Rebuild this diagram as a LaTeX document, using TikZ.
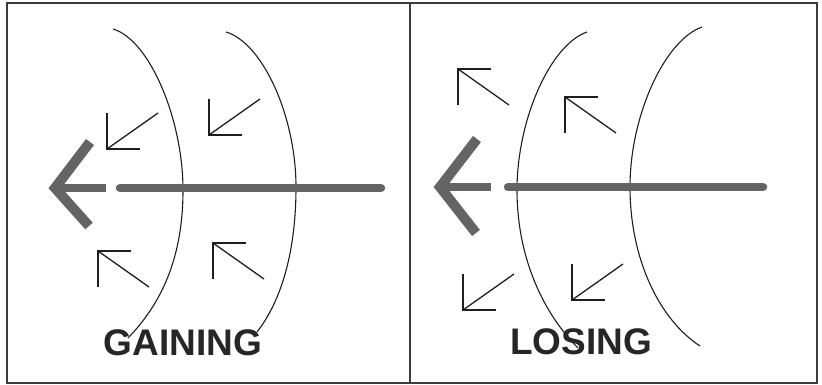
\documentclass[tikz,border=0pt]{standalone}
\usepackage{fontspec}
\setmainfont{Liberation Sans}
\usepackage{tikz}
\usetikzlibrary{calc}
\definecolor{RimGray} {RGB}{60,60,60}
\definecolor{WaveInk} {RGB}{30,30,30}
\definecolor{PathGray}{RGB}{100,100,100}
\definecolor{WordInk} {RGB}{38,38,38}

\begin{document}
\begin{tikzpicture}[x=1pt,y=-1pt,
    rim/.style={draw=RimGray,line width=1.8pt},
    wave/.style={draw=WaveInk,line width=1.1pt},
    dart/.style={draw=WaveInk,line width=1.3pt},
    shaft/.style={draw=PathGray,line width=8.5pt},
    barb/.style={draw=PathGray,line width=10pt,line join=miter},
    word/.style={text=WordInk,font=\fontsize{37}{40}\bfseries\selectfont,anchor=base}]
      \useasboundingbox (0,0) rectangle (822,385);
      % panels
      \draw[rim] (7,3) rectangle (817,383);
      \draw[rim] (410,3) -- (410,383);
      % wave fronts
      \draw[wave] (113,29) .. controls (150,40) and (183,120) .. (183,190)
                  .. controls (183,260) and (160,305) .. (128,338);
      \draw[wave] (226,32) .. controls (263,43) and (296,117) .. (296,187)
                  .. controls (296,250) and (282,300) .. (257,332);
      \draw[wave] (587,32) .. controls (550,45) and (517,120) .. (517,190)
                  .. controls (517,260) and (545,315) .. (578,348);
      \draw[wave] (702,27) .. controls (665,40) and (630,115) .. (630,187)
                  .. controls (630,260) and (660,320) .. (700,346);
      % small arrows: corner x / corner y / up or down
      \foreach \cx/\cy/\s in {107/149/-1,209/135/-1,98/251/1,213/243/1,
                              458/69/1,565/97/1,463/310/-1,572/300/-1}{
        \draw[dart] (\cx,\cy+\s*36) -- (\cx,\cy) -- (\cx+33,\cy);
        \draw[dart] (\cx,\cy) -- (\cx+51,\cy+\s*36);
      }
      % big arrows
      \coordinate (gtip)  at (55,188);
      \coordinate (gcut)  at (106,188);
      \coordinate (gfrom) at (120,188);
      \coordinate (gend)  at (381,188);
      \draw[shaft,line cap=round] (gend) -- (gfrom);
      \draw[shaft] (gcut) -- (gtip);
      \draw[barb] (90,142) -- (gtip) -- (89,226);
      \coordinate (ltip)  at (440,187);
      \coordinate (lcut)  at (491,187);
      \coordinate (lfrom) at (508,187);
      \coordinate (lend)  at (763,187);
      \draw[shaft,line cap=round] (lend) -- (lfrom);
      \draw[shaft] (lcut) -- (ltip);
      \draw[barb] (477,139) -- (ltip) -- (476,233);
      % labels
      \node[word] (gaining) at (183,355) {GAINING};
      \node[word] (losing)  at (581,354) {LOSING};
    \end{tikzpicture}
\end{document}
